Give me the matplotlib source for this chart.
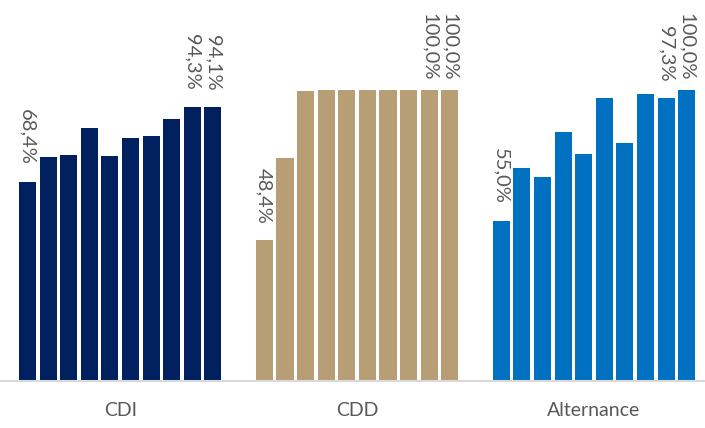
import matplotlib.pyplot as plt
import numpy as np

plt.rcParams['font.family'] = ['Lato', 'DejaVu Sans']

categories = ['CDI', 'CDD', 'Alternance']
cdi = [68.4, 77.0, 77.7, 86.9, 77.3, 83.5, 84.2, 90.0, 94.3, 94.1]
cdd = [48.4, 76.6, 99.7, 100.0, 100.0, 100.0, 100.0, 100.0, 100.0, 100.0]
alternance = [55.0, 73.2, 70.1, 85.6, 78.0, 97.3, 81.8, 98.6, 97.3, 100.0]
series = [cdi, cdd, alternance]
colors = ['#002060', '#B89E75', '#0070C0']
# which bars carry a value label (first bar and last two)
labelled = [0, 8, 9]

fig = plt.figure(figsize=(7.05, 4.28), dpi=100)
ax = fig.add_axes([0, 47 / 428, 1, 381 / 428])

group_step = 11.5
bar_w = 0.83
grey = '#595959'

texts = []
centers = []
for g, vals in enumerate(series):
    x = g * group_step + np.arange(len(vals))
    ax.bar(x, vals, width=bar_w, color=colors[g], zorder=2)
    centers.append(x.mean())
    for i in labelled:
        t = ax.annotate(f'{vals[i]:.1f}%'.replace('.', ','), (x[i], vals[i]),
                        xytext=(0, 12), textcoords='offset points',
                        rotation=-90, ha='center', va='bottom',
                        fontsize=14.5, color=grey)
        texts.append(t)

ax.set_xlim(-1.335, 32.89)
ax.set_ylim(0, 130.9)
ax.set_xticks(centers)
ax.set_xticklabels(categories, fontsize=14, color=grey)
ax.tick_params(axis='x', length=0, pad=15)
ax.set_yticks([])
for s in ['top', 'left', 'right']:
    ax.spines[s].set_visible(False)
ax.spines['bottom'].set_color('#d9d9d9')
ax.spines['bottom'].set_linewidth(1.5)

# keep labels of the tallest bars inside the top of the figure
fig.canvas.draw()
r = fig.canvas.get_renderer()
limit = fig.bbox.height - 13
for t in texts:
    bb = t.get_window_extent(r)
    if bb.y1 > limit:
        ox, oy = t.xyann
        t.xyann = (ox, oy - (bb.y1 - limit) * 72 / fig.dpi)

fig.savefig('out.png', dpi=100)
